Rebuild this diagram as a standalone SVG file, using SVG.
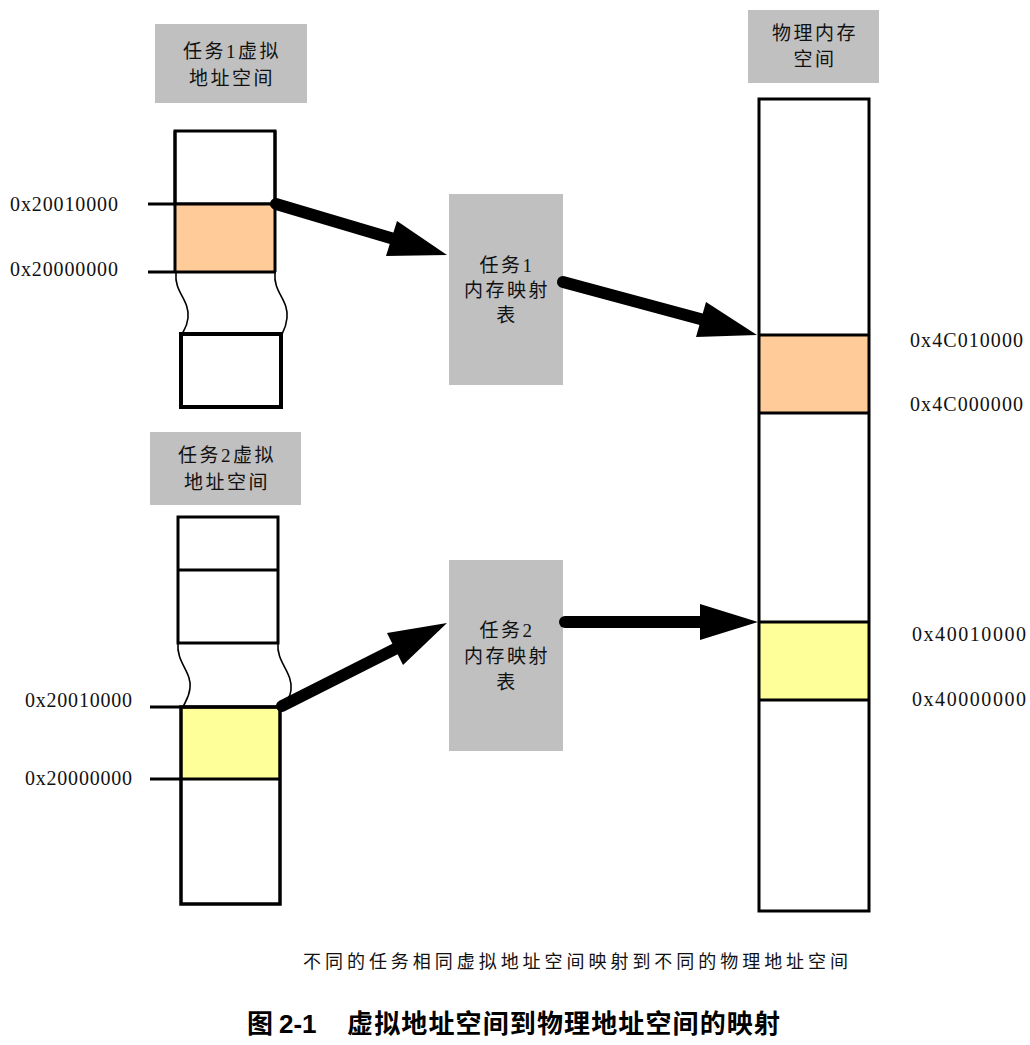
<svg xmlns="http://www.w3.org/2000/svg" width="1030" height="1045" viewBox="0 0 1030 1045">
<style>
.lbl{fill:#c0c0c0}
.t{font-family:"Liberation Serif","Noto Sans CJK SC",serif;font-size:19px;fill:#111;letter-spacing:2.5px}
.addr{font-family:"Liberation Serif",serif;font-size:20px;fill:#111}
.box{fill:#fff;stroke:#000;stroke-width:3}
.ln{stroke:#000;stroke-width:3;fill:none}
.wave{stroke:#000;stroke-width:1.6;fill:none}
.arr{stroke:#000;stroke-width:12;stroke-linecap:round;fill:none}
.head{fill:#000}
.cap{font-family:"Noto Sans CJK SC",sans-serif;font-size:18px;fill:#111;letter-spacing:4px}
.title{font-family:"Liberation Sans","Noto Sans CJK SC",sans-serif;font-size:26px;font-weight:bold;fill:#000}
</style>

<g id="task1-label">
<rect class="lbl" x="155" y="24" width="152" height="79"/>
<text class="t" x="232" y="58" text-anchor="middle">任务1虚拟</text>
<text class="t" x="232" y="85" text-anchor="middle">地址空间</text>
</g>

<g id="task1-space">
<rect class="box" x="175" y="131" width="100" height="73"/>
<rect x="175" y="204" width="100" height="68" fill="#ffcc99"/>
<line class="ln" x1="175" y1="131" x2="175" y2="272"/>
<line class="ln" x1="275" y1="131" x2="275" y2="272"/>
<line class="ln" x1="148" y1="204" x2="276" y2="204"/>
<line class="ln" x1="148" y1="272" x2="276" y2="272"/>
<path class="wave" d="M176,273 C174,292 190,300 188,318 C187,327 184,330 182,334"/>
<path class="wave" d="M275,273 C273,292 289,300 287,318 C286,327 284,330 282,334"/>
<rect x="181" y="334" width="100" height="73" fill="#fff" stroke="#000" stroke-width="4"/>
<text class="addr" x="10" y="211" textLength="108">0x20010000</text>
<text class="addr" x="10" y="276" textLength="108">0x20000000</text>
</g>

<g id="task2-label">
<rect class="lbl" x="150" y="432" width="151" height="73"/>
<text class="t" x="227" y="462" text-anchor="middle">任务2虚拟</text>
<text class="t" x="227" y="489" text-anchor="middle">地址空间</text>
</g>

<g id="task2-space">
<rect class="box" x="178" y="517" width="100" height="126" stroke-width="3.5"/>
<line class="ln" x1="178" y1="570" x2="278" y2="570"/>
<path class="wave" d="M178,643 C176,662 192,672 190,688 C189,698 185,702 183,707"/>
<path class="wave" d="M278,643 C276,662 293,672 291,690 C290,699 285,703 282,707"/>
<rect x="181" y="707" width="99" height="72" fill="#ffff99"/>
<rect x="181" y="707" width="99" height="197" fill="none" stroke="#000" stroke-width="3.5"/>
<line class="ln" x1="150" y1="707" x2="281" y2="707"/>
<line class="ln" x1="150" y1="779" x2="281" y2="779"/>
<text class="addr" x="25" y="707" textLength="107">0x20010000</text>
<text class="addr" x="25" y="785" textLength="107">0x20000000</text>
</g>

<g id="map1">
<rect class="lbl" x="449" y="194" width="114" height="191"/>
<text class="t" x="507" y="272" text-anchor="middle">任务1</text>
<text class="t" x="507" y="297" text-anchor="middle">内存映射</text>
<text class="t" x="507" y="322" text-anchor="middle">表</text>
</g>

<g id="map2">
<rect class="lbl" x="449" y="560" width="114" height="191"/>
<text class="t" x="507" y="637" text-anchor="middle">任务2</text>
<text class="t" x="507" y="663" text-anchor="middle">内存映射</text>
<text class="t" x="507" y="689" text-anchor="middle">表</text>
</g>

<g id="phys-label">
<rect class="lbl" x="748" y="10" width="131" height="73"/>
<text class="t" x="815" y="40" text-anchor="middle">物理内存</text>
<text class="t" x="815" y="66" text-anchor="middle">空间</text>
</g>

<g id="phys-space">
<rect x="759" y="99" width="110" height="812" fill="#fff"/>
<rect x="759" y="335" width="110" height="78" fill="#ffcc99"/>
<rect x="759" y="622" width="110" height="78" fill="#ffff99"/>
<rect x="759" y="99" width="110" height="812" fill="none" stroke="#000" stroke-width="3"/>
<line class="ln" x1="759" y1="335" x2="869" y2="335"/>
<line class="ln" x1="759" y1="413" x2="869" y2="413"/>
<line class="ln" x1="759" y1="622" x2="869" y2="622"/>
<line class="ln" x1="759" y1="700" x2="869" y2="700"/>
<text class="addr" x="910" y="347" textLength="113">0x4C010000</text>
<text class="addr" x="910" y="411" textLength="113">0x4C000000</text>
<text class="addr" x="912" y="641" textLength="114">0x40010000</text>
<text class="addr" x="912" y="706" textLength="114">0x40000000</text>
</g>

<g id="connectors">
<line class="arr" x1="276" y1="204" x2="394" y2="239"/>
<polygon class="head" points="447,255 386,256 397,221"/>
<line class="arr" x1="563" y1="282" x2="704" y2="320"/>
<polygon class="head" points="757,335 696,337 706,302"/>
<line class="arr" x1="282" y1="706" x2="397" y2="648"/>
<polygon class="head" points="447,623 387,633 403,665"/>
<line class="arr" x1="565" y1="622" x2="703" y2="622"/>
<polygon class="head" points="758,622 700,604 700,640"/>
</g>

<g id="caption">
<text class="cap" x="303" y="968" textLength="549">不同的任务相同虚拟地址空间映射到不同的物理地址空间</text>
<text class="title" y="1033"><tspan x="247">图</tspan><tspan x="279">2-1</tspan><tspan x="347" textLength="433">虚拟地址空间到物理地址空间的映射</tspan></text>
</g>
</svg>
